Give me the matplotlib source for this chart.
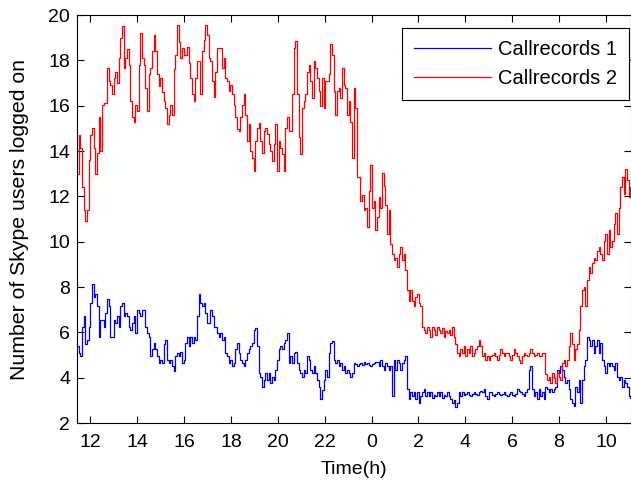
import numpy as np
import matplotlib
matplotlib.use('Agg')
import matplotlib.pyplot as plt

# sampling of both traces: one point every ~4.27 min, starting 11:26
start_hour = 11.432
step_hours = 0.0711

callrecords_1 = [
    5.4, 5.1, 4.95, 6.25, 6.7, 5.5, 5.65, 6.25, 7.3, 8.15,
    7.55, 7.7, 7.15, 5.8, 6.55, 6.55, 6.25, 6.85, 7.45, 7.15,
    5.8, 5.8, 6.55, 6.4, 6.7, 6.25, 7.15, 7.3, 6.7, 6.85,
    6.7, 6.25, 6.1, 6.4, 6.7, 5.95, 7.0, 6.85, 6.7, 7.0,
    7.0, 6.25, 5.95, 5.8, 4.95, 5.25, 5.55, 5.25, 4.95, 4.65,
    4.8, 4.65, 5.5, 5.65, 4.8, 4.65, 4.8, 4.5, 4.3, 4.95,
    5.1, 4.95, 5.15, 4.65, 4.8, 5.55, 5.8, 5.4, 5.8, 5.55,
    5.8, 5.65, 6.7, 7.7, 7.3, 7.15, 7.3, 6.85, 6.4, 6.4,
    7.0, 6.7, 6.25,
    6.25, 5.95, 5.8, 5.95, 5.65, 5.8, 5.1, 4.95, 4.65, 4.8,
    4.5, 4.65, 5.25, 5.55, 5.1, 4.8, 4.65, 4.5, 4.8, 5.1,
    5.25, 5.4, 5.55, 6.1, 6.2, 5.4, 4.2, 4.05, 3.6, 3.9,
    4.2, 3.9, 4.2, 3.75, 4.05, 3.9, 4.35, 4.8, 5.25, 5.4,
    5.25, 5.55, 5.65, 5.95, 4.65, 4.95, 4.65, 5.1, 5.15, 4.65,
    4.35, 4.2, 4.05, 4.35, 4.2, 4.95, 4.8, 4.35, 4.2, 4.5,
    4.2, 3.9, 3.6, 3.05, 3.45, 3.9, 4.35, 4.05, 5.1, 5.55,
    5.6, 4.8, 4.65, 4.8, 4.5, 4.65, 4.35, 4.5, 4.2, 4.35,
    4.2, 4.05, 4.2,
    4.65, 4.6, 4.5, 4.6, 4.65, 4.55, 4.7, 4.6, 4.65, 4.55,
    4.5, 4.6, 4.65, 4.7, 4.7, 4.5, 4.8, 4.5, 4.35, 4.65,
    4.5, 4.35, 4.5, 3.2, 4.8, 4.35, 4.8, 4.65, 4.35, 4.65,
    4.8, 4.95, 3.5, 3.05, 3.35, 3.2, 3.35, 3.05, 3.35, 2.9,
    3.2, 3.35, 3.5, 3.2, 3.35, 3.2, 3.35, 3.1, 3.25, 3.2,
    3.35, 3.2, 3.35, 3.1, 3.25, 3.2, 3.35, 3.2, 3.05, 2.9,
    3.0, 2.7, 2.9, 3.35, 3.2, 3.35, 3.25, 3.3, 3.35, 3.25,
    3.2, 3.3, 3.35, 3.3, 3.25, 3.35, 3.4, 3.35, 3.5, 3.2,
    3.05, 3.35,
    3.35, 3.25, 3.2, 3.3, 3.35, 3.3, 3.25, 3.3, 3.35, 3.25,
    3.2, 3.3, 3.35, 3.25, 3.2, 3.3, 3.5, 3.4, 3.35, 3.3,
    3.2, 3.35, 3.5, 4.35, 4.5, 3.5, 3.2, 3.35, 3.05, 3.5,
    3.2, 3.35, 3.05, 3.6, 3.5, 3.35, 3.5, 3.35, 3.5, 3.6,
    4.35, 4.2, 4.5, 4.35, 4.05, 3.75, 3.9, 3.5, 3.05, 2.9,
    2.75, 3.6, 3.35, 3.9, 2.9, 3.9, 4.5, 4.8, 5.8, 5.65,
    5.4, 5.65, 5.1, 5.4, 5.65, 5.1, 5.55, 4.8, 4.5, 4.2,
    4.65, 4.5, 4.65, 4.5, 4.35, 4.65, 4.05, 3.9, 4.05, 3.6,
    3.9, 3.75, 3.6, 3.2, 3.1,
]

callrecords_2 = [
    13.0, 14.7, 14.15, 12.4, 11.4, 10.9, 11.4, 13.6, 14.7, 15.0,
    14.15, 13.0, 13.9, 15.5, 14.0, 16.05, 16.1, 16.1, 17.65, 17.1,
    16.9, 16.5, 17.2, 17.5, 17.0, 18.1, 19.0, 19.5, 17.65, 18.1,
    18.5, 17.8, 16.2, 15.5, 15.3, 16.05, 15.75, 17.8, 19.2, 18.1,
    17.8, 16.8, 15.75, 17.4, 17.65, 18.4, 19.1, 18.4, 17.4, 16.85,
    17.2, 16.6, 16.2, 15.9, 15.2, 15.6, 16.05, 15.6, 17.6, 18.25,
    19.55, 18.8, 18.1, 18.55, 18.25, 18.25, 18.6, 17.9, 17.2, 16.5,
    16.2, 17.2, 17.95, 17.95, 16.5, 18.4, 18.9, 19.55, 19.1, 18.1,
    17.95, 17.1, 16.4,
    17.5, 18.55, 18.55, 18.55, 17.65, 18.1, 17.2, 17.1, 16.65, 16.9,
    16.5, 16.05, 15.5, 14.95, 14.9, 15.5, 16.05, 16.5, 15.6, 14.45,
    15.2, 14.0, 13.7, 13.1, 14.45, 15.0, 15.25, 14.45, 13.9, 14.9,
    15.0, 14.75, 14.3, 14.0, 13.55, 14.3, 15.2, 13.1, 14.45, 14.15,
    13.85, 13.1, 15.0, 15.5, 14.9, 14.9, 16.5, 18.55, 18.85, 16.5,
    14.6, 13.85, 15.9, 16.2, 16.5, 17.5, 17.8, 17.1, 16.35, 17.95,
    17.65, 17.2, 16.65, 16.0, 17.2, 15.9, 17.1, 17.1, 17.4, 18.7,
    18.25, 16.65, 15.6, 16.65, 16.8, 16.35, 17.65, 16.9, 16.8, 15.6,
    16.2, 15.3, 13.7,
    16.8, 15.9, 12.85, 12.85, 11.8, 12.05, 11.4, 11.5, 10.65, 12.25,
    13.4, 11.5, 11.8, 10.5, 11.1, 11.95, 11.5, 13.05, 12.45, 11.6,
    10.35, 11.4, 9.9, 9.45, 9.2, 9.3, 8.9, 9.45, 9.75, 9.2,
    9.45, 8.75, 7.85, 7.4, 7.85, 7.4, 7.15, 7.55, 7.7, 7.3,
    7.15, 6.25, 6.1, 5.95, 6.25, 6.1, 5.8, 6.25, 6.1, 5.9,
    6.25, 6.1, 5.95, 6.2, 5.8, 6.05, 5.95, 6.1, 5.9, 6.25,
    5.8, 5.5, 5.1, 4.95, 5.25, 5.1, 5.4, 4.95, 5.25, 5.1,
    5.4, 4.95, 5.1, 5.25, 5.4, 5.65, 5.4, 4.95, 5.1, 4.8,
    4.95, 4.8,
    4.95, 5.0, 5.1, 4.95, 4.8, 5.0, 5.25, 5.1, 4.95, 5.1,
    5.1, 4.95, 4.8, 5.0, 5.25, 5.1, 4.95, 4.8, 4.65, 4.95,
    5.1, 5.0, 4.95, 5.1, 5.25, 5.1, 4.95, 5.0, 5.1, 4.95,
    4.95, 5.1, 5.1, 4.15, 3.9, 4.05, 3.75, 4.2, 4.0, 3.75,
    4.2, 4.05, 3.9, 4.65, 4.8, 4.5, 4.8, 5.4, 5.95, 5.5,
    4.8, 5.25, 5.5, 6.1, 7.15, 7.85, 8.0, 7.15, 8.3, 8.9,
    8.6, 9.05, 9.3, 9.2, 9.6, 9.75, 9.45, 9.2, 10.05, 10.35,
    9.45, 10.5, 9.75, 10.05, 10.8, 11.25, 10.35, 11.5, 12.4, 12.85,
    12.1, 13.2, 12.7, 11.95, 12.4,
]

hour_ticks = list(range(12, 35, 2))
hour_labels = [str(h % 24) for h in hour_ticks]

plt.rcParams['font.family'] = ['Liberation Sans', 'DejaVu Sans']

t1 = start_hour + step_hours * np.arange(len(callrecords_1))
t2 = start_hour + step_hours * np.arange(len(callrecords_2))

fig = plt.figure(figsize=(6.31, 4.82), dpi=100)
ax = fig.add_axes([77 / 631, 59 / 482, 554 / 631, 408 / 482])

ax.plot(t1, callrecords_1, color='#0000ff', linewidth=0.9, drawstyle='steps-post', label='Callrecords 1')
ax.plot(t2, callrecords_2, color='#ff0000', linewidth=0.9, drawstyle='steps-post', label='Callrecords 2')

ax.set_xlim(11.43, 35.07)
ax.set_ylim(2, 20)
ax.set_xticks(hour_ticks)
ax.set_xticklabels(hour_labels)
ax.set_yticks(range(2, 21, 2))

ax.tick_params(direction='in', top=True, right=True, length=5, width=0.8, labelsize=14, colors='black')
ax.tick_params(axis='x', pad=8)
ax.tick_params(axis='y', pad=5)
for sp in ax.spines.values():
    sp.set_linewidth(0.8)
    sp.set_color('black')

ax.set_xlabel('Time(h)', fontsize=14, labelpad=7)
ax.set_ylabel('Number of Skype users logged on', fontsize=15.3)
ax.yaxis.set_label_coords(-0.0866, 0.5)

leg = ax.legend(loc='upper right', bbox_to_anchor=(0.9964, 0.968), borderaxespad=0,
                fancybox=False, edgecolor='black', framealpha=1, fontsize=14.5,
                handlelength=3.8, handletextpad=0.35, borderpad=0.6, labelspacing=0.5)
leg.get_frame().set_linewidth(0.8)

fig.savefig('out.png', dpi=100)
